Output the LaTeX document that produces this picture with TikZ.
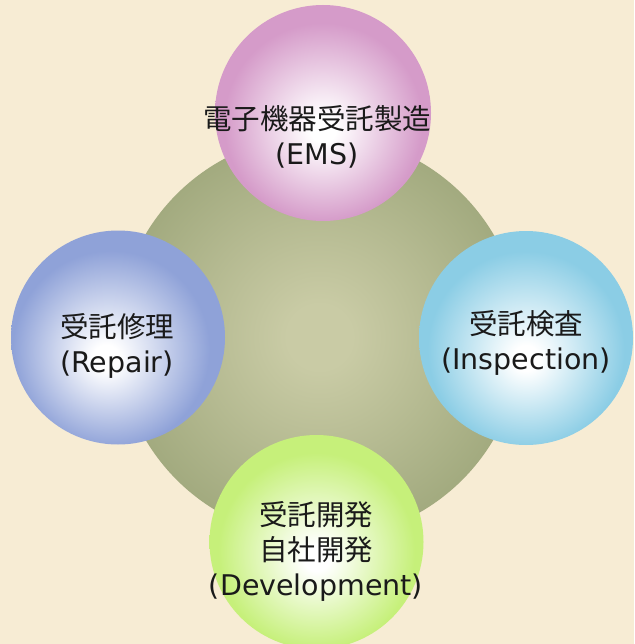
\documentclass[tikz,border=0pt]{standalone}
\usepackage{fontspec}
\setmainfont{DejaVu Sans}
\newfontfamily\jpfont{Noto Sans CJK JP}
\definecolor{bgc}{HTML}{F7ECD4}
\definecolor{bigin}{HTML}{C9CBA5}
\definecolor{bigout}{HTML}{8E996B}
\definecolor{pinkedge}{HTML}{D59BC9}
\definecolor{blueedge}{HTML}{8FA2D8}
\definecolor{cyanedge}{HTML}{8BCDE5}
\definecolor{limeedge}{HTML}{C6F07A}
\definecolor{textc}{HTML}{1A1A1A}
\pgfdeclareradialshading{bigball}{\pgfpoint{0bp}{0bp}}{color(0bp)=(bigin); color(4bp)=(bigin); color(36bp)=(bigout); color(50bp)=(bigout)}
\pgfdeclareradialshading{pinkball}{\pgfpoint{0bp}{-4bp}}{color(0bp)=(white); color(3bp)=(white); color(23bp)=(pinkedge); color(50bp)=(pinkedge)}
\pgfdeclareradialshading{blueball}{\pgfpoint{-3bp}{-5bp}}{color(0bp)=(white); color(3bp)=(white); color(23bp)=(blueedge); color(50bp)=(blueedge)}
\pgfdeclareradialshading{cyanball}{\pgfpoint{0bp}{-5bp}}{color(0bp)=(white); color(3bp)=(white); color(23bp)=(cyanedge); color(50bp)=(cyanedge)}
\pgfdeclareradialshading{limeball}{\pgfpoint{0bp}{-4bp}}{color(0bp)=(white); color(3bp)=(white); color(23bp)=(limeedge); color(50bp)=(limeedge)}
\begin{document}
\begin{tikzpicture}[x=1pt,y=-1pt,
  ball/.style={circle, inner sep=0pt, draw=none, shade},
  lbl/.style={align=center, inner sep=0pt, text=textc, font=\fontsize{28.5}{35}\selectfont}]
\useasboundingbox (0,0) rectangle (634,644);
\fill[bgc] (0,0) rectangle (634,644);
\node[ball, shading=bigball, minimum size=404pt] (hub) at (319.5,337) {};
\node[ball, shading=pinkball, minimum size=216pt] (ems) at (323,113) {};
\node[ball, shading=blueball, minimum size=214pt] (repair) at (118,337.5) {};
\node[ball, shading=cyanball, minimum size=214pt] (insp) at (526,338) {};
\node[ball, shading=limeball, minimum size=214pt] (dev) at (316.5,542) {};
\node[lbl] (emsT) at (317,137) {{\jpfont 電子機器受託製造}\\(EMS)};
\node[lbl] (repT) at (117,346) {{\jpfont 受託修理}\\(Repair)};
\node[lbl] (inspT) at (526,343) {{\jpfont 受託検査}\\(Inspection)};
\node[lbl] (devT) at (316,551) {{\jpfont 受託開発}\\{\jpfont 自社開発}\\(Development)};
\end{tikzpicture}
\end{document}
